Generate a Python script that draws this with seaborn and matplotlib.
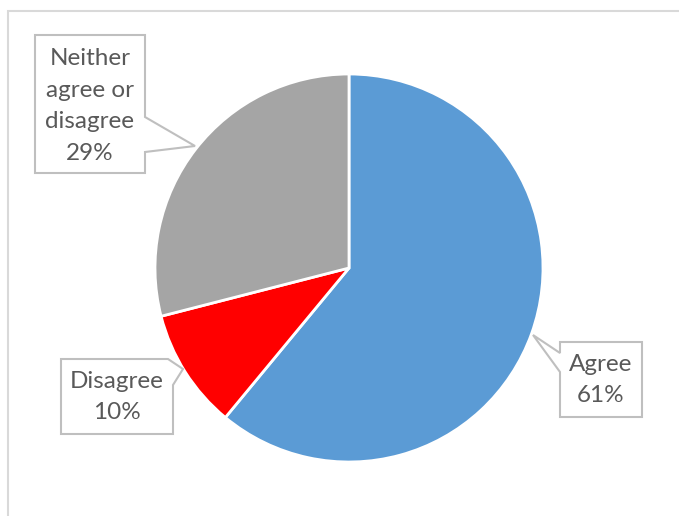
import matplotlib
matplotlib.use("Agg")
import matplotlib.pyplot as plt
import seaborn as sns
from matplotlib.patches import Polygon, Rectangle

categories = ["Agree", "Disagree", "Neither agree or disagree"]
values = [61, 10, 29]
label_text = ["Agree", "Disagree", "Neither\nagree or\ndisagree"]
colors = ["#5B9BD5", "#FF0000", "#A5A5A5"]

sns.set_theme(style="white")
plt.rcParams["font.family"] = ["Lato", "DejaVu Sans"]

W, H = 679, 516
fig = plt.figure(figsize=(W / 100, H / 100), dpi=100)
ax = fig.add_axes([0, 0, 1, 1])
ax.set_xlim(0, W)
ax.set_ylim(0, H)
ax.set_aspect("equal")
ax.axis("off")

def P(x, y):
    return (x, H - y)

# chart frame
ax.add_patch(Rectangle(P(8, 530), 700, 519, fill=False, edgecolor="#D9D9D9", lw=1.5))

cx, cy = P(349, 268)
ax.pie(values, colors=colors, startangle=90, counterclock=False, center=(cx, cy),
       radius=194, wedgeprops=dict(edgecolor="white", linewidth=2), frame=True)
ax.set_xlim(0, W)
ax.set_ylim(0, H)
ax.axis("off")

callouts = {
    "Agree": ([(560, 342), (642, 342), (642, 417), (560, 417), (560, 372), (533, 335), (560, 353)], (601, 380)),
    "Disagree": ([(61, 359), (168, 359), (183, 369), (173, 385), (173, 434), (61, 434)], (117, 397)),
    "Neither agree or disagree": ([(35, 35), (145, 35), (145, 117), (195, 146), (145, 152), (145, 173), (35, 173)], (90, 106)),
}

for cat, val, lt in zip(categories, values, label_text):
    pts, (tx, ty) = callouts[cat]
    ax.add_patch(Polygon([P(x, y) for x, y in pts], closed=True, facecolor="white",
                         edgecolor="#BFBFBF", lw=1.5, zorder=3))
    ax.text(*P(tx, ty), f"{lt}\n{val}%", ha="center", va="center", fontsize=17.5,
            color="#595959", linespacing=1.62, zorder=4)

fig.savefig("out.png", dpi=100)
